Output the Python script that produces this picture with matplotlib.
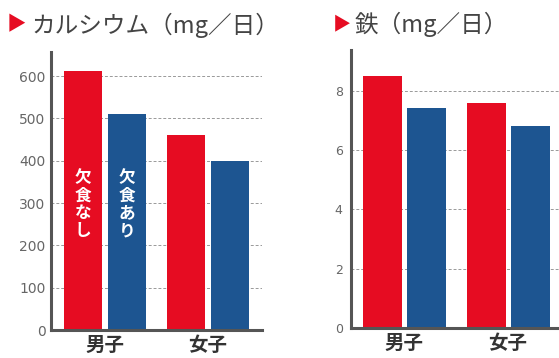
import matplotlib.pyplot as plt
import numpy as np

plt.rcParams['font.family'] = ['Noto Sans CJK JP', 'DejaVu Sans']

groups = ['男子', '女子']
series = ['欠食なし', '欠食あり']
calcium = [[613, 462], [510, 400]]
iron = [[8.5, 7.6], [7.4, 6.8]]
ca_ticks = [0, 100, 200, 300, 400, 500, 600]
fe_ticks = [0, 2, 4, 6, 8]

red = '#e60c22'
blue = '#1d5591'
gray = '#666666'

W, H = 559, 358
fig = plt.figure(figsize=(W / 100, H / 100), dpi=100)


def px_axes(x0, y_top, x1, y_bot):
    return fig.add_axes([x0 / W, 1 - y_bot / H, (x1 - x0) / W, (y_bot - y_top) / H])


def style(ax, ticks, fs, pad):
    ax.set_yticks(ticks)
    ax.set_xticks([])
    for t in ticks[1:]:
        ax.axhline(t, color='#999999', lw=0.7, ls=(0, (3, 2)), zorder=0)
    for s in ['top', 'right']:
        ax.spines[s].set_visible(False)
    for s in ['left', 'bottom']:
        ax.spines[s].set_color('#555555')
        ax.spines[s].set_linewidth(2.2)
    ax.tick_params(axis='y', length=0, pad=pad, labelsize=fs, labelcolor=gray,
                   labelfontfamily='DejaVu Sans')


x = np.arange(len(groups))
w = 0.375
off = 0.212

# calcium
ax1 = px_axes(51, 52, 262, 330)
ax1.bar(x - off, calcium[0], w, color=red, zorder=2)
ax1.bar(x + off, calcium[1], w, color=blue, zorder=2)
ax1.set_xlim(-0.524, 1.524)
ax1.set_ylim(0, 657)
style(ax1, ca_ticks, 10, 4)
for i, name in enumerate(series):
    ax1.text(x[0] + (2 * i - 1) * off, 382, '\n'.join(name), color='white',
             fontsize=12, fontweight='bold', ha='center', va='top', linespacing=1.0)

# iron
ax2 = px_axes(351, 50, 575, 328)
ax2.bar(x - off, iron[0], w, color=red, zorder=2)
ax2.bar(x + off, iron[1], w, color=blue, zorder=2)
ax2.set_xlim(-0.513, 1.645)
ax2.set_ylim(0, 9.37)
style(ax2, fe_ticks, 9, 6)

for ax in [ax1, ax2]:
    for i, g in enumerate(groups):
        ax.annotate(g, (x[i], 0), xycoords=ax.get_xaxis_transform(),
                    xytext=(0, -4), textcoords='offset points', ha='center', va='top',
                    fontsize=14, fontweight='bold', color='#333333')

fig.text(7 / W, 1 - 25 / H, '▶', color=red, fontsize=14, va='center', ha='left')
fig.text(31 / W, 1 - 25 / H, 'カルシウム（mg／日）', color='#444444', fontsize=17,
         va='center', ha='left')
fig.text(333 / W, 1 - 24 / H, '▶', color=red, fontsize=13, va='center', ha='left')
fig.text(355 / W, 1 - 24 / H, '鉄（mg／日）', color='#444444', fontsize=17,
         va='center', ha='left')

fig.savefig('out.png', dpi=100)
